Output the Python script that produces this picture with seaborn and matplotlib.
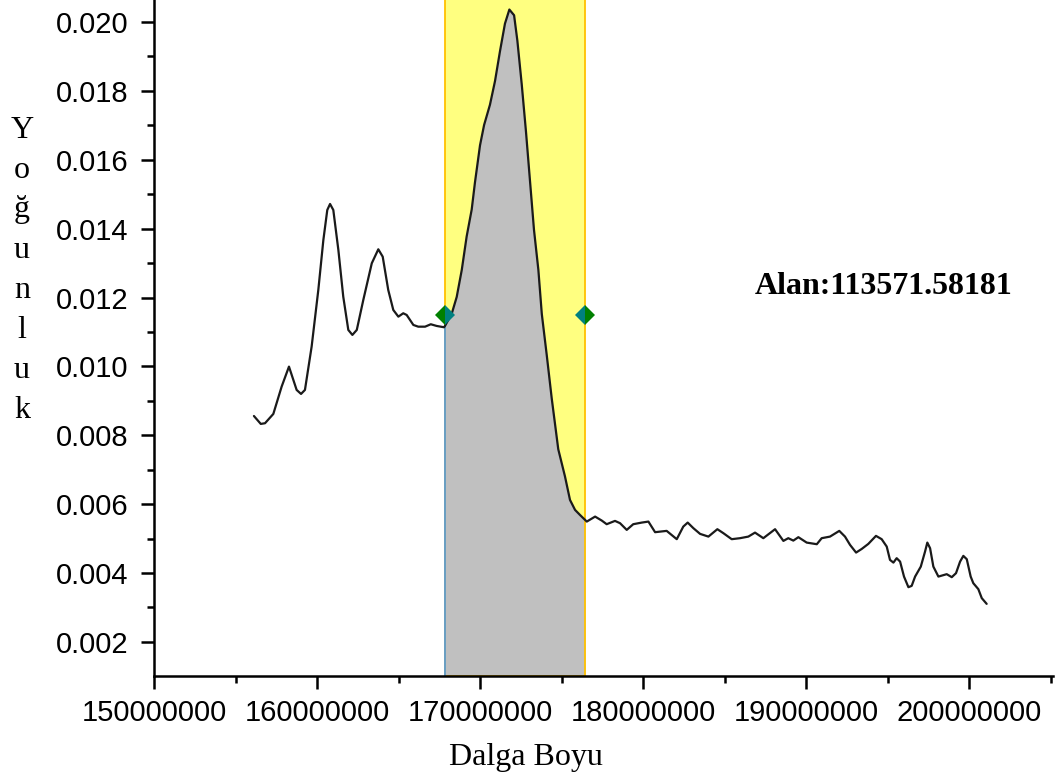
import numpy as np
import pandas as pd
import matplotlib
matplotlib.use("Agg")
import matplotlib.pyplot as plt
import matplotlib.ticker as mticker
import seaborn as sns

# ---------------- data (x in millions) ----------------
wave_m = [156.13, 156.55, 156.81, 157.32, 157.83, 158.28, 158.75, 159.02, 159.26, 159.67,
          160.08, 160.39, 160.63, 160.80, 161.00, 161.31, 161.61, 161.92, 162.17, 162.44,
          162.84, 163.36, 163.76, 164.03, 164.37, 164.68, 164.99, 165.29, 165.50, 165.91,
          166.21, 166.63, 166.98, 167.34, 167.79,
          167.85, 168.26, 168.57, 168.88, 169.18, 169.49, 169.69, 170.00, 170.25, 170.61,
          170.92, 171.23, 171.53, 171.80, 172.09, 172.29, 172.56, 172.82, 173.07, 173.31,
          173.58, 173.79, 174.09, 174.40, 174.80, 175.21, 175.52, 175.83, 176.13, 176.44,
          176.55, 177.06, 177.47, 177.77, 178.28, 178.59, 179.00, 179.40, 179.92, 180.33,
          180.74, 181.45, 182.07, 182.47, 182.74, 183.09, 183.50, 184.01, 184.56, 184.93,
          185.44, 185.95, 186.46, 186.87, 187.38, 188.10, 188.61, 188.91, 189.22, 189.53,
          190.04, 190.66, 190.96, 191.47, 192.04, 192.39, 192.70, 193.07, 193.42, 193.82,
          194.29, 194.64, 194.95, 195.15, 195.36, 195.56, 195.77, 196.01, 196.28, 196.48,
          196.69, 197.04, 197.30, 197.44, 197.61, 197.81, 198.12, 198.63, 198.94, 199.20,
          199.45, 199.65, 199.86, 200.10, 200.26, 200.57, 200.78, 201.08]
density = [0.008560, 0.008330, 0.008350, 0.008620, 0.009413, 0.009994, 0.009317, 0.009201, 0.009317, 0.010574,
           0.012220, 0.013672, 0.014542, 0.014717, 0.014542, 0.013381, 0.012026, 0.011059, 0.010914, 0.011059,
           0.011930, 0.012995, 0.013401, 0.013187, 0.012220, 0.011639, 0.011445, 0.011543, 0.011494, 0.011204,
           0.011154, 0.011154, 0.011224, 0.011175, 0.011137,
           0.011175, 0.011523, 0.012017, 0.012801, 0.013773, 0.014557, 0.015343, 0.016421, 0.017010, 0.017599,
           0.018287, 0.019167, 0.019954, 0.020363, 0.020197, 0.019463, 0.018186, 0.016813, 0.015343, 0.013970,
           0.012801, 0.011523, 0.010342, 0.009067, 0.007595, 0.006809, 0.006123, 0.005833, 0.005688, 0.005543,
           0.005494, 0.005639, 0.005523, 0.005418, 0.005514, 0.005447, 0.005253, 0.005418, 0.005465, 0.005494,
           0.005186, 0.005224, 0.004983, 0.005349, 0.005465, 0.005302, 0.005137, 0.005058, 0.005273, 0.005157,
           0.004983, 0.005012, 0.005058, 0.005174, 0.005012, 0.005273, 0.004933, 0.005012, 0.004942, 0.005041,
           0.004884, 0.004837, 0.005012, 0.005058, 0.005224, 0.005058, 0.004817, 0.004594, 0.004701, 0.004846,
           0.005079, 0.004983, 0.004768, 0.004382, 0.004303, 0.004431, 0.004332, 0.003897, 0.003589, 0.003627,
           0.003897, 0.004187, 0.004622, 0.004884, 0.004721, 0.004187, 0.003897, 0.003967, 0.003880, 0.003996,
           0.004332, 0.004498, 0.004402, 0.003897, 0.003706, 0.003532, 0.003271, 0.003105]

band_limits_m = [167.85, 176.44]
marker_level = 0.01150
area_label = "Alan:113571.58181"
x_label = "Dalga Boyu"
y_label = "Yoğunluk"
x_ticks_m = [150, 160, 170, 180, 190, 200]
y_ticks = [0.002, 0.004, 0.006, 0.008, 0.010, 0.012, 0.014, 0.016, 0.018, 0.020]

df = pd.DataFrame({"x": np.array(wave_m) * 1e6, "y": density})
b0, b1 = band_limits_m[0] * 1e6, band_limits_m[1] * 1e6

# ---------------- style ----------------
sns.set_style("ticks")
plt.rcParams["font.family"] = ["Liberation Sans", "DejaVu Sans"]
plt.rcParams["text.color"] = "black"

fig = plt.figure(figsize=(10.59, 7.83), dpi=100)
ax = fig.add_axes([154 / 1059, 1 - 676 / 783, (1053 - 154) / 1059, 676 / 783])

ymin, ymax = 0.00101, 0.02064
ax.set_xlim(150e6, 205.15e6)
ax.set_ylim(ymin, ymax)

# yellow band
ax.axvspan(b0, b1, color="#FFFF80", lw=0, zorder=1)
# gray integrated area
sub = df[(df.x >= b0) & (df.x <= b1)]
ax.fill_between(sub.x, sub.y, ymin, color="#C0C0C0", lw=0, zorder=2)
# band edges
ax.axvline(b0, color="#FFC000", lw=1.3, zorder=3)
ax.axvline(b1, color="#FFC000", lw=1.3, zorder=3)
ax.vlines(b0, ymin, sub.y.iloc[0], color="#5B9BD5", lw=1.3, zorder=3.5)
ax.hlines(ymin, b0, b1, color="#FFC000", lw=1.3, zorder=3)

# curve
sns.lineplot(data=df, x="x", y="y", ax=ax, color="#1a1a1a", lw=1.6, zorder=4,
             estimator=None, sort=False)

# diamond markers
ax.plot([b0], [marker_level], marker="D", ms=10, fillstyle="left",
        markerfacecolor="#008000", markerfacecoloralt="#008080", mew=0, ls="none", zorder=5)
ax.plot([b1], [marker_level], marker="D", ms=10, fillstyle="left",
        markerfacecolor="#008080", markerfacecoloralt="#008000", mew=0, ls="none", zorder=5)

# axes styling
for s in ["top", "right"]:
    ax.spines[s].set_visible(False)
for s in ["left", "bottom"]:
    ax.spines[s].set_linewidth(1.8)
    ax.spines[s].set_color("black")
    ax.spines[s].set_zorder(6)

ax.set_xticks([v * 1e6 for v in x_ticks_m])
ax.xaxis.set_minor_locator(mticker.MultipleLocator(5e6))
ax.xaxis.set_major_formatter(mticker.FuncFormatter(lambda v, p: f"{int(round(v))}"))
ax.set_yticks(y_ticks)
ax.yaxis.set_minor_locator(mticker.MultipleLocator(0.001))
ax.yaxis.set_major_formatter(mticker.FormatStrFormatter("%.3f"))

ax.tick_params(which="major", length=9.5, width=1.8, labelsize=21, color="black",
               labelcolor="black")
ax.tick_params(which="minor", length=5, width=1.8, color="black")
ax.tick_params(axis="y", which="major", pad=9)
ax.tick_params(axis="x", which="major", pad=7)
ax.set_xlabel("")
ax.set_ylabel("")

serif = ["Liberation Serif", "DejaVu Serif"]
fig.text(526 / 1059, 1 - 758 / 783, x_label, ha="center", va="center",
         fontsize=23, family=serif, color="black")
fig.text(22 / 1059, 1 - 270 / 783, "\n".join(list(y_label)), ha="center", va="center",
         fontsize=23, family=serif, linespacing=1.5, color="black")
ax.text(884 / 1059, 1 - 286 / 783, area_label, transform=fig.transFigure,
        ha="center", va="center", fontsize=23, fontweight="bold", family=serif,
        color="black")

fig.savefig("out.png", dpi=100)
